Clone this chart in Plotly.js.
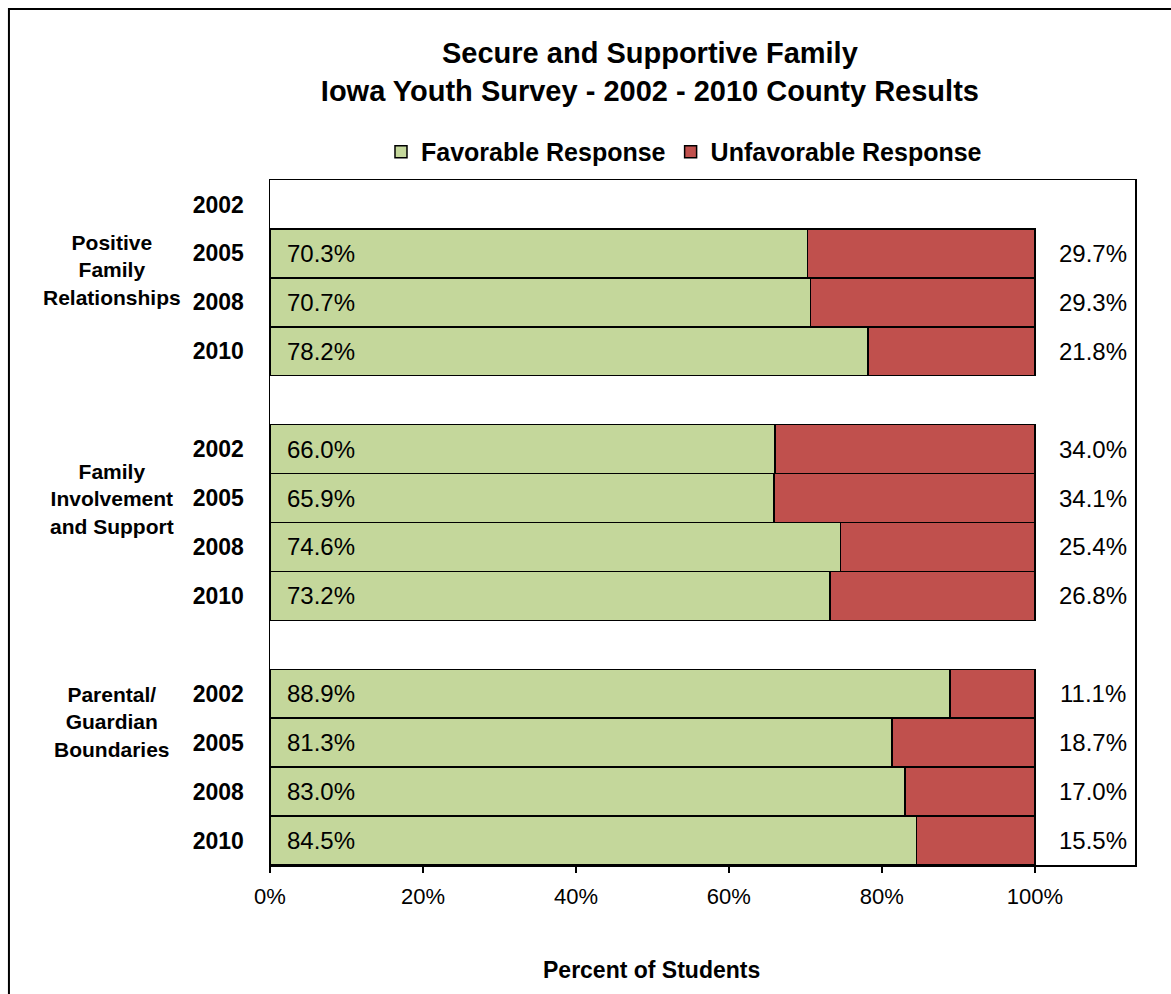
<!DOCTYPE html>
<html>
<head>
<meta charset="utf-8">
<script src="https://cdn.plot.ly/plotly-3.0.1.min.js"></script>
<style>
html,body{margin:0;padding:0;background:#fff;}
#chart{width:1171px;height:994px;}
</style>
</head>
<body>
<div id="chart"></div>
<script>
// ---- data ----
const groupNames = ['Positive<br>Family<br>Relationships', 'Family<br>Involvement<br>and Support', 'Parental/<br>Guardian<br>Boundaries'];
const years = ['2002', '2005', '2008', '2010'];
const favorable = [
  [null, 70.3, 70.7, 78.2],
  [66.0, 65.9, 74.6, 73.2],
  [88.9, 81.3, 83.0, 84.5]
];
const unfavorable = [
  [null, 29.7, 29.3, 21.8],
  [34.0, 34.1, 25.4, 26.8],
  [11.1, 18.7, 17.0, 15.5]
];
const xTickVals = [0, 20, 40, 60, 80, 100];
const xTickText = ['0%', '20%', '40%', '60%', '80%', '100%'];
const seriesNames = ['Favorable Response', 'Unfavorable Response'];
const chartTitle = 'Secure and Supportive Family<br>Iowa Youth Survey - 2002 - 2010 County Results';
const axisTitle = 'Percent of Students';

// ---- build rows (one blank slot between groups) ----
const rowY = [], rowTick = [], favX = [], unfX = [];
groupNames.forEach((g, gi) => {
  years.forEach((yr, yi) => {
    const pos = gi * (years.length + 1) + yi;
    rowY.push(pos);
    rowTick.push(yr);
    favX.push(favorable[gi][yi]);
    unfX.push(unfavorable[gi][yi]);
  });
});

const GREEN = '#C4D79B', RED = '#C0504D';
const FONT = 'Liberation Sans, Arial, sans-serif';

const traces = [
  {type: 'bar', orientation: 'h', name: seriesNames[0], y: rowY, x: favX,
   marker: {color: GREEN, line: {color: '#000', width: 1.5}}, hoverinfo: 'x'},
  {type: 'bar', orientation: 'h', name: seriesNames[1], y: rowY, x: unfX,
   marker: {color: RED, line: {color: '#000', width: 1.5}}, hoverinfo: 'x'}
];

const annotations = [];
rowY.forEach((y, i) => {
  if (favX[i] != null) {
    annotations.push({x: 2, y: y, xref: 'x', yref: 'y', text: favX[i].toFixed(1) + '%',
      showarrow: false, xanchor: 'left', yanchor: 'middle', font: {family: FONT, size: 24, color: '#000'}});
  }
  if (unfX[i] != null) {
    annotations.push({x: 107.6, y: y, xref: 'x', yref: 'y', text: unfX[i].toFixed(1) + '%',
      showarrow: false, xanchor: 'center', yanchor: 'middle', font: {family: FONT, size: 24, color: '#000'}});
  }
});
const groupLabelY = [1.34, 6.02, 10.58];
groupNames.forEach((g, gi) => {
  annotations.push({x: -0.183, xref: 'paper', y: groupLabelY[gi], yref: 'y', text: '<b>' + g + '</b>',
    showarrow: false, xanchor: 'center', yanchor: 'middle', align: 'center',
    font: {family: FONT, size: 21, color: '#000'}});
});
annotations.push({x: 0.4416, xref: 'paper', y: -0.153, yref: 'paper', text: '<b>' + axisTitle + '</b>',
  showarrow: false, xanchor: 'center', yanchor: 'middle', font: {family: FONT, size: 23, color: '#000'}});

const layout = {
  width: 1171, height: 994,
  margin: {l: 270, r: 36, t: 180, b: 129, pad: 0},
  paper_bgcolor: '#fff', plot_bgcolor: '#fff',
  barmode: 'stack', bargap: 0,
  font: {family: FONT, color: '#000'},
  title: {text: '<b>' + chartTitle + '</b>', x: 0.555, xref: 'container', xanchor: 'center',
    y: 0.9367, yref: 'container', yanchor: 'middle', font: {family: FONT, size: 29, color: '#000'}},
  showlegend: true,
  legend: {orientation: 'h', x: 0.4786, xanchor: 'center', y: 1.041, yanchor: 'middle',
    font: {family: FONT, size: 25, color: '#000', weight: 'bold'}, traceorder: 'normal',
    itemwidth: 30, bgcolor: 'rgba(0,0,0,0)'},
  xaxis: {range: [0, 113.1], tickvals: xTickVals, ticktext: xTickText, ticks: 'outside', ticklen: 6,
    tickcolor: '#000', tickwidth: 1.5, showgrid: false, zeroline: false, showline: true, linecolor: '#000',
    linewidth: 1.5, mirror: true, ticklabelstandoff: 5, tickfont: {family: FONT, size: 22, color: '#000'}, fixedrange: true},
  yaxis: {range: [13.5, -0.5], tickvals: rowY, ticktext: rowTick.map(t => '<b>' + t + '</b>'), ticks: '',
    ticklabelstandoff: 20, showgrid: false, zeroline: false, showline: true, linecolor: '#000', linewidth: 1.5,
    mirror: true, tickfont: {family: FONT, size: 23, color: '#000'}, fixedrange: true},
  annotations: annotations,
  shapes: [
    {type: 'rect', xref: 'paper', yref: 'paper', x0: -0.3018, x1: 1.2, y0: -0.3, y1: 1.2496,
     line: {color: '#000', width: 2}, fillcolor: 'rgba(0,0,0,0)', layer: 'below'}
  ]
};

Plotly.newPlot('chart', traces, layout, {displayModeBar: false, staticPlot: true});
</script>
</body>
</html>
